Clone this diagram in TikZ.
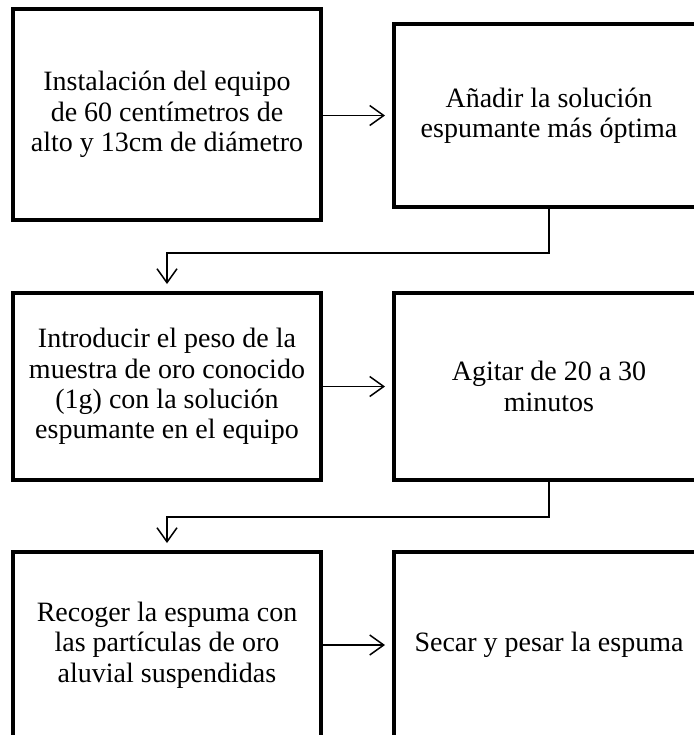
\documentclass[tikz,border=0pt]{standalone}
\usepackage{fontspec}
\setmainfont{Liberation Serif}
\usepackage{tikz}
\usetikzlibrary{
  positioning,
  arrows.meta,
  calc
}
\tikzset{
  % Process box
  stepbox/.style={
    rectangle,
    draw=black,
    line width=2pt,
    fill=white,
    align=center,
    inner sep=0pt,
    font=\fontsize{14}{15.2}\selectfont
  },
  % Wide box (right column)
  wstepbox/.style={stepbox, minimum width=155pt},
  % Narrow box (left column)
  nstepbox/.style={stepbox, minimum width=154pt},
  % Flow connector
  flow/.style={
    draw=black,
    line width=0.75pt,
    -{Straight Barb[length=7pt,width=10pt,line width=0.75pt]},
    shorten >=3.5pt
  }
}

\begin{document}
\begin{tikzpicture}[x=0.5pt, y=-0.5pt]
  \clip (0,0) rectangle (694,735);
  % Left column
  \node[nstepbox, minimum height=105.5pt] (inst) at (167,114.5)
    {Instalación del equipo\\de 60 centímetros de\\alto y 13cm de diámetro};
  \node[nstepbox, minimum height=93.5pt] (intro) at (167,386.5)
    {Introducir el peso de la\\muestra de oro conocido\\(1g) con la solución\\espumante en el equipo};
  \node[nstepbox, minimum height=93pt] (reco) at (167,645)
    {Recoger la espuma con\\las partículas de oro\\aluvial suspendidas};
  % Right column
  \node[wstepbox, minimum height=91.5pt] (anad) at (549,115.5)
    {Añadir la solución\\espumante más óptima};
  \node[wstepbox, minimum height=93.5pt] (agit) at (549,386.5)
    {Agitar de 20 a 30\\minutos};
  \node[wstepbox, minimum height=93pt] (seca) at (549,645)
    {Secar y pesar la espuma};
  % Horizontal arrows
  \foreach \a/\b in {inst/anad, intro/agit, reco/seca} {
    \draw[flow] (\a.east |- \b.west) -- (\b.west);
  }
  % Row to row connectors
  \draw[flow] (anad.south) -- ++(0,44) -| (intro.north);
  \draw[flow] (agit.south) -- ++(0,35) -| (reco.north);
\end{tikzpicture}
\end{document}
